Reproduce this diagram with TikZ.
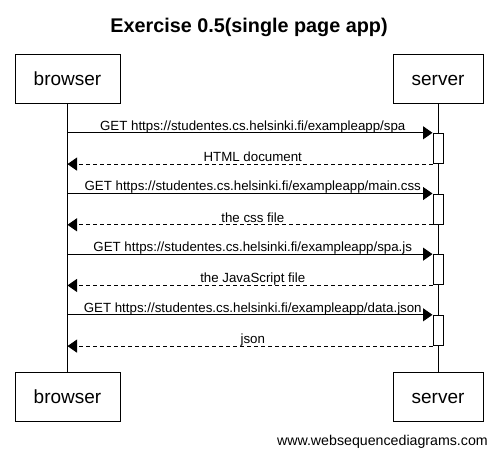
\documentclass[tikz,border=0pt]{standalone}
\usepackage{fontspec}
\setmainfont{Liberation Sans}
\usetikzlibrary{arrows.meta,calc}
\begin{document}
\begin{tikzpicture}[x=1pt,y=-1pt,
  part/.style={draw,line width=1pt,minimum height=49pt,inner sep=0pt,text height=15pt,text depth=2pt,font=\fontsize{19}{22}\selectfont},
  life/.style={line width=1pt},
  act/.style={draw,fill=white,line width=1pt,minimum width=10pt,minimum height=30.3pt,inner sep=0pt},
  req/.style={line width=1pt,-{Triangle[length=9.5pt,width=13pt]}},
  resp/.style={line width=1pt,dash pattern=on 4pt off 3pt,-{Triangle[length=9.5pt,width=13pt]}},
  lbl/.style={anchor=base,inner sep=0pt,font=\fontsize{13.3}{15}\selectfont},
]
\useasboundingbox (0,0) rectangle (498,455);
\node[anchor=base,font=\fontsize{19.8}{23}\selectfont\bfseries] (title) at (249,32) {Exercise 0.5(single page app)};
\node[part,minimum width=105pt] (bt) at (67.5,78.5) {browser};
\node[part,minimum width=90pt] (st) at (438,78.5) {server};
\node[part,minimum width=105pt] (bb) at (67.5,396.5) {browser};
\node[part,minimum width=90pt] (sb) at (438,396.5) {server};
\draw[life] (bt.south) -- (bb.north);
\draw[life] (st.south) -- (sb.north);
\node[act] (a1) at (438,148.45) {};
\node[act] (a2) at (438,209.15) {};
\node[act] (a3) at (438,269.8) {};
\node[act] (a4) at (438,330.45) {};
\foreach \a/\q/\r in {a1/{GET https://studentes.cs.helsinki.fi/exampleapp/spa}/{HTML document},
                     a2/{GET https://studentes.cs.helsinki.fi/exampleapp/main.css}/{the css file},
                     a3/{GET https://studentes.cs.helsinki.fi/exampleapp/spa.js}/{the JavaScript file},
                     a4/{GET https://studentes.cs.helsinki.fi/exampleapp/data.json}/{json}}{
  \draw[req] (bt.south |- \a.north west) -- (\a.north west);
  \draw[resp] (\a.south west) -- (bt.south |- \a.south west);
  \node[lbl,yshift=2.6pt] (q\a) at ($(bt.south |- \a.north)!0.5!(st.south |- \a.north)$) {\q};
  \node[lbl,yshift=2.6pt] (r\a) at ($(bt.south |- \a.south)!0.5!(st.south |- \a.south)$) {\r};
}
\node[anchor=base east,inner sep=0pt,font=\fontsize{14.2}{16}\selectfont] (foot) at (488,445) {www.websequencediagrams.com};
\end{tikzpicture}
\end{document}
